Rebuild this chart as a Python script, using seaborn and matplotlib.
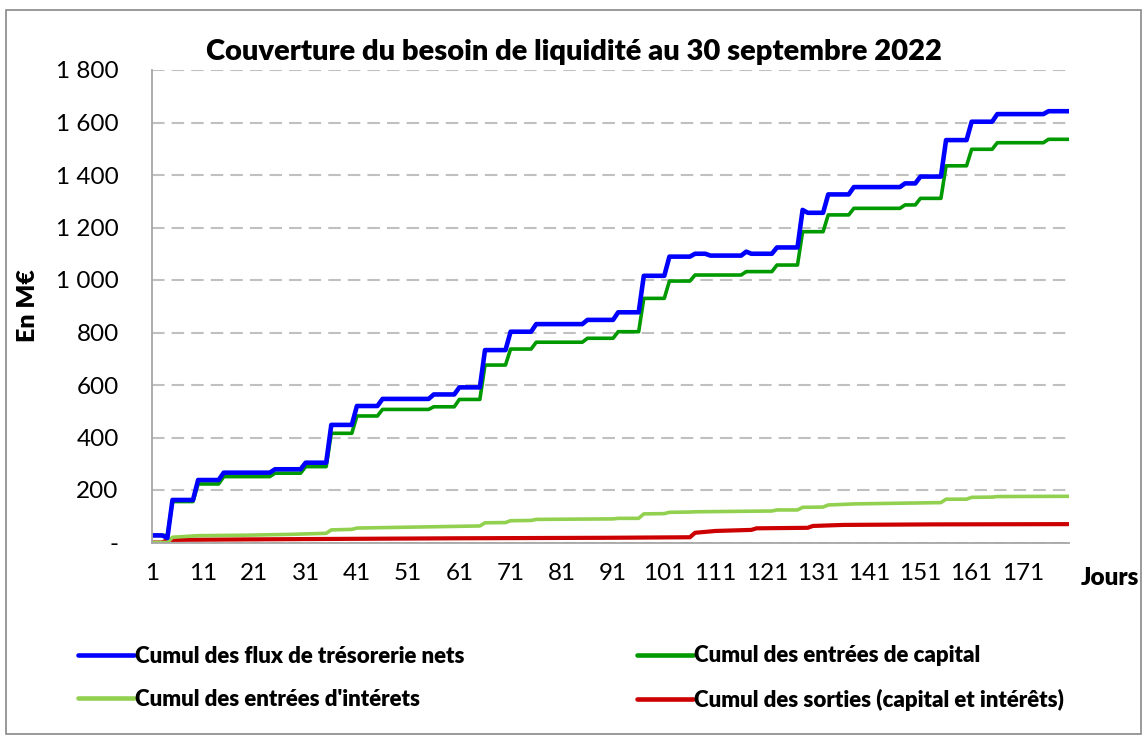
import numpy as np
import pandas as pd
import seaborn as sns
import matplotlib.pyplot as plt
from matplotlib.patches import Rectangle
from matplotlib.ticker import FuncFormatter

# Couverture du besoin de liquidité (M€)
# sommets des courbes en escalier : jour / valeur
flux_jours = [1, 3, 4, 5, 9, 10, 14, 15, 24, 25, 30, 31, 35, 36, 40, 41, 45, 46, 55, 56, 60,
              61, 65, 66, 70, 71, 75, 76, 85, 86, 91, 92, 96, 97, 101, 102, 106, 107, 109,
              110, 116, 117, 118, 122, 123, 127, 128, 129, 132, 133, 137, 138, 147, 148, 150,
              151, 155, 156, 160, 161, 165, 166, 175, 176, 180]
flux_vals = [27, 27, 17, 162, 162, 238, 238, 266, 266, 279, 279, 304, 304, 448, 448, 520, 520,
             547, 547, 564, 564, 591, 591, 733, 733, 803, 803, 832, 832, 848, 848, 877, 877,
             1016, 1016, 1089, 1089, 1100, 1100, 1093, 1093, 1108, 1100, 1100, 1124, 1124,
             1267, 1256, 1256, 1326, 1326, 1354, 1354, 1368, 1368, 1394, 1394, 1533, 1533,
             1603, 1603, 1632, 1632, 1643, 1643]

capital_jours = [1, 4, 5, 9, 10, 14, 15, 24, 25, 30, 31, 35, 36, 40, 41, 45, 46, 55, 56, 60,
                 61, 65, 66, 70, 71, 75, 76, 85, 86, 91, 92, 96, 97, 101, 102, 106, 107, 116,
                 117, 122, 123, 127, 128, 132, 133, 137, 138, 147, 148, 150, 151, 155, 156,
                 160, 161, 165, 166, 175, 176, 180]
capital_vals = [27, 27, 156, 156, 223, 223, 251, 251, 264, 264, 289, 289, 416, 416, 482, 482,
                507, 507, 517, 517, 545, 545, 676, 676, 737, 737, 763, 763, 778, 778, 803, 803,
                930, 930, 996, 996, 1019, 1019, 1032, 1032, 1057, 1057, 1184, 1184, 1248, 1248,
                1273, 1273, 1286, 1286, 1311, 1311, 1435, 1435, 1498, 1498, 1523, 1523, 1536,
                1536]

interets_jours = [1, 4, 5, 10, 20, 28, 35, 36, 40, 41, 65, 66, 70, 71, 75, 76, 91, 92, 96, 97,
                  101, 102, 106, 107, 122, 123, 127, 128, 132, 133, 137, 138, 155, 156, 160,
                  161, 165, 166, 180]
interets_vals = [0, 0, 20, 26, 28, 31, 35, 48, 50, 55, 63, 75, 76, 83, 84, 88, 90, 92, 92, 109,
                 110, 115, 116, 117, 120, 124, 124, 134, 135, 143, 146, 147, 152, 165, 165,
                 172, 173, 175, 176]

sorties_jours = [1, 3, 4, 30, 60, 90, 106, 107, 111, 118, 119, 129, 130, 136, 153, 180]
sorties_vals = [0, 0, 10, 13, 16, 18, 20, 37, 44, 48, 54, 56, 63, 67, 69, 70]

labels = ["Cumul des flux de trésorerie nets", "Cumul des entrées de capital",
          "Cumul des entrées d'intérets", "Cumul des sorties (capital et intérêts)"]
couleurs = ["#0000FF", "#009900", "#92D050", "#CC0000"]
epaisseurs = [3.3, 2.6, 2.6, 3.0]

xticks = list(range(1, 172, 10))
yticks = list(range(0, 1801, 200))

sns.set_theme(style="white")
plt.rcParams['font.family'] = ['Lato', 'DejaVu Sans']
plt.rcParams['text.color'] = 'black'
plt.rcParams['xtick.color'] = 'black'
plt.rcParams['ytick.color'] = 'black'

W, H = 1148, 738
fig = plt.figure(figsize=(W / 100, H / 100), dpi=100)
ax = fig.add_axes([152 / W, 1 - 542.5 / H, (1069 - 152) / W, (542.5 - 70) / H])

series = [(flux_jours, flux_vals), (capital_jours, capital_vals),
          (interets_jours, interets_vals), (sorties_jours, sorties_vals)]
# dessiner du dernier au premier pour que le bleu soit au-dessus
for i in [3, 2, 1, 0]:
    j, v = series[i]
    df = pd.DataFrame({"jour": j, "valeur": v})
    sns.lineplot(data=df, x="jour", y="valeur", ax=ax, color=couleurs[i],
                 linewidth=epaisseurs[i], label=labels[i], legend=False,
                 solid_capstyle='round', solid_joinstyle='round')

ax.set_xlim(1, 180)
ax.set_ylim(0, 1800)
ax.set_xticks(xticks)
ax.set_xticklabels([str(t) for t in xticks])
ax.set_yticks(yticks)
ax.yaxis.set_major_formatter(FuncFormatter(
    lambda v, p: "-" if v == 0 else f"{int(v):,}".replace(",", " ")))
ax.set_xlabel("")
ax.set_ylabel("")
ax.grid(axis='y', color='#C0C0C0', linewidth=1.5, linestyle=(0, (6, 3.4)))
ax.grid(axis='x', visible=False)
ax.set_axisbelow(True)
for s in ['top', 'right']:
    ax.spines[s].set_visible(False)
for s in ['left', 'bottom']:
    ax.spines[s].set_color('#A6A6A6')
    ax.spines[s].set_linewidth(1.3)
ax.tick_params(axis='x', length=0, pad=15, labelsize=17.5)
ax.tick_params(axis='y', length=0, pad=24, labelsize=17.5)

fig.text(0.5, 1 - 52 / H, "Couverture du besoin de liquidité au 30 septembre 2022",
         ha='center', va='center', fontsize=21, fontweight='heavy')
fig.text(1110 / W, 1 - 578 / H, "Jours", ha='center', va='center',
         fontsize=17.5, fontweight='heavy')
fig.text(28 / W, 1 - 306 / H, "En M€", ha='center', va='center', rotation=90,
         fontsize=18, fontweight='heavy')

handles = {l.get_label(): l for l in ax.get_lines()}
for x0, noms in [(78, [labels[0], labels[2]]), (637, [labels[1], labels[3]])]:
    leg = fig.legend([handles[n] for n in noms], noms, loc='center left',
                     bbox_to_anchor=(x0 / W, 1 - 678 / H), frameon=False,
                     fontsize=16, handlelength=2.5, handletextpad=0.05,
                     labelspacing=1.0, borderpad=0, borderaxespad=0)
    for t in leg.get_texts():
        t.set_fontweight('heavy')
    for ln in leg.get_lines():
        ln.set_linewidth(3.3)

fig.add_artist(Rectangle((6 / W, 4 / H), 1135 / W, 724 / H, transform=fig.transFigure,
                         fill=False, edgecolor='#898989', linewidth=1.2))

fig.savefig("out.png", dpi=100)
